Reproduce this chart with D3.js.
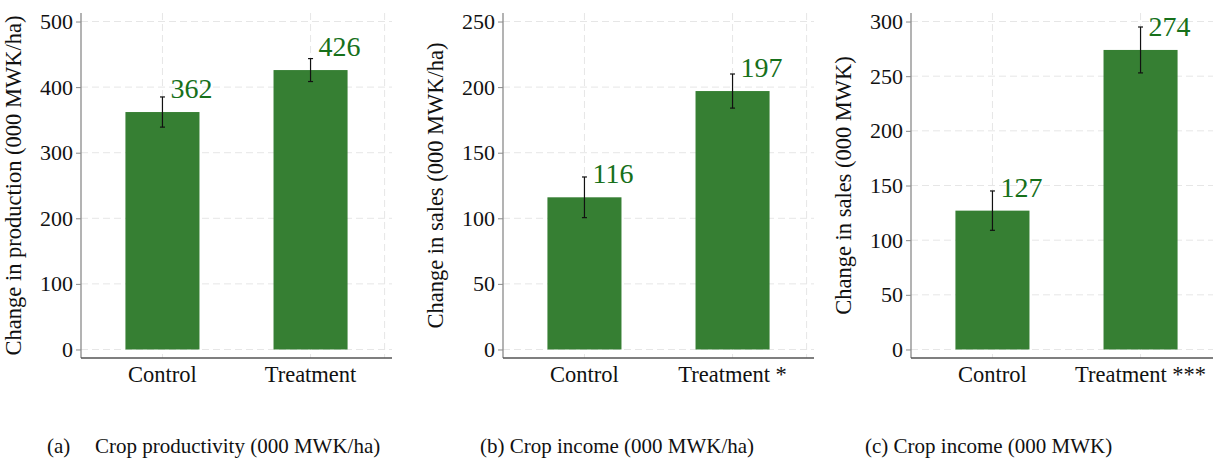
<!DOCTYPE html>
<html>
<head>
<meta charset="utf-8">
<script src="https://cdn.jsdelivr.net/npm/d3@7"></script>
<style>
  html, body { margin: 0; padding: 0; background: #fff; }
  svg, svg text { font-family: "Liberation Serif", Tinos, "Times New Roman", Times, "DejaVu Serif", serif !important; }
</style>
</head>
<body>
<svg id="chart" width="1213" height="458"></svg>
<script>
// Group means with error-bar half-widths
const categories = ["Control", "Treatment"];

const labelsA = ["Control", "Treatment"];
const productivity = [362, 426];
const productivityErr = [23, 17.5];
const ticksA = [0, 100, 200, 300, 400, 500];

const labelsB = ["Control", "Treatment *"];
const incomeHa = [116, 197];
const incomeHaErr = [15.5, 13];
const ticksB = [0, 50, 100, 150, 200, 250];

const labelsC = ["Control", "Treatment ***"];
const incomeTotal = [127, 274];
const incomeTotalErr = [18, 21];
const ticksC = [0, 50, 100, 150, 200, 250, 300];

const titles = [
  "Change in production (000 MWK/ha)",
  "Change in sales (000 MWK/ha)",
  "Change in sales (000 MWK)"
];
const captions = [
  ["(a)", "Crop productivity (000 MWK/ha)"],
  ["(b) Crop income (000 MWK/ha)"],
  ["(c) Crop income (000 MWK)"]
];

const panels = [
  { left: 81,  values: productivity, errs: productivityErr, ticks: ticksA, labels: labelsA, title: titles[0] },
  { left: 503, values: incomeHa,     errs: incomeHaErr,     ticks: ticksB, labels: labelsB, title: titles[1] },
  { left: 911, values: incomeTotal,  errs: incomeTotalErr,  ticks: ticksC, labels: labelsC, title: titles[2] }
];

const svg = d3.select("#chart");
const plotTop = 13, plotBottom = 358, plotW = 311;
const barFill = "#367f33", labelFill = "#16701a", gridCol = "#e6e6e6", axisCol = "#8a8a8a";

panels.forEach(p => {
  const g = svg.append("g");
  const maxT = d3.max(p.ticks);
  const pad = 0.026 * maxT;
  const y = d3.scaleLinear().domain([-pad, maxT + pad]).range([plotBottom, plotTop]);
  const x = d3.scalePoint().domain(categories).range([p.left, p.left + plotW]).padding(0.55);
  const step = x.step();
  const barW = step * 0.5;
  const right = p.left + plotW;

  // horizontal grid
  g.selectAll("line.hgrid").data(p.ticks).join("line")
    .attr("x1", p.left).attr("x2", right)
    .attr("y1", d => y(d)).attr("y2", d => y(d))
    .attr("stroke", gridCol).attr("stroke-width", 1).attr("stroke-dasharray", "7,4");

  // vertical grid at categories and beyond last one
  const vx = categories.map(c => x(c)).concat([x(categories[1]) + step / 2]);
  g.selectAll("line.vgrid").data(vx).join("line")
    .attr("x1", d => d).attr("x2", d => d)
    .attr("y1", plotTop).attr("y2", plotBottom)
    .attr("stroke", gridCol).attr("stroke-width", 1).attr("stroke-dasharray", "7,4");

  // bars
  g.selectAll("rect.bar").data(p.values).join("rect")
    .attr("x", (d, i) => x(categories[i]) - barW / 2)
    .attr("width", barW)
    .attr("y", d => y(d))
    .attr("height", d => y(0) - y(d))
    .attr("fill", barFill);

  // error bars
  const eb = g.selectAll("g.err").data(p.values).join("g");
  eb.append("line")
    .attr("x1", (d, i) => x(categories[i])).attr("x2", (d, i) => x(categories[i]))
    .attr("y1", (d, i) => y(d - p.errs[i])).attr("y2", (d, i) => y(d + p.errs[i]))
    .attr("stroke", "#111").attr("stroke-width", 1.2);
  [1, -1].forEach(s => {
    eb.append("line")
      .attr("x1", (d, i) => x(categories[i]) - 2.5).attr("x2", (d, i) => x(categories[i]) + 2.5)
      .attr("y1", (d, i) => y(d + s * p.errs[i])).attr("y2", (d, i) => y(d + s * p.errs[i]))
      .attr("stroke", "#111").attr("stroke-width", 1.2);
  });

  // value labels, above and right of each bar top
  g.selectAll("text.val").data(p.values).join("text")
    .attr("x", (d, i) => x(categories[i]) + 8)
    .attr("y", d => y(d) - 14)
    .attr("fill", labelFill).attr("font-size", 28)
    .text(d => d);

  // y axis
  const yAxis = g.append("g").attr("transform", `translate(${p.left},0)`)
    .call(d3.axisLeft(y).tickValues(p.ticks).tickSize(5).tickPadding(3));
  yAxis.select(".domain").remove();
  yAxis.selectAll(".tick line").attr("stroke", axisCol);
  yAxis.selectAll(".tick text").attr("font-size", 22).attr("fill", "#111");
  g.append("line").attr("x1", p.left).attr("x2", p.left).attr("y1", plotTop).attr("y2", plotBottom)
    .attr("stroke", axisCol).attr("stroke-width", 1.3);

  // x axis
  g.append("line").attr("x1", p.left).attr("x2", right).attr("y1", plotBottom).attr("y2", plotBottom)
    .attr("stroke", "#555").attr("stroke-width", 1.3);
  g.selectAll("text.xl").data(p.labels).join("text")
    .attr("x", (d, i) => x(categories[i]))
    .attr("y", 382)
    .attr("text-anchor", "middle").attr("font-size", 22.5).attr("fill", "#111")
    .text(d => d);

  // y title
  g.append("text")
    .attr("transform", `translate(${p.left - 60},${(plotTop + plotBottom) / 2}) rotate(-90)`)
    .attr("text-anchor", "middle").attr("font-size", 22.5).attr("fill", "#111")
    .text(p.title);
});

// captions
const cap = svg.append("g").attr("font-size", 21).attr("fill", "#111");
cap.append("text").attr("x", 47).attr("y", 453).text(captions[0][0]);
cap.append("text").attr("x", 95).attr("y", 453).text(captions[0][1]);
cap.append("text").attr("x", 480).attr("y", 453).text(captions[1][0]);
cap.append("text").attr("x", 865).attr("y", 453).text(captions[2][0]);
</script>
</body>
</html>
